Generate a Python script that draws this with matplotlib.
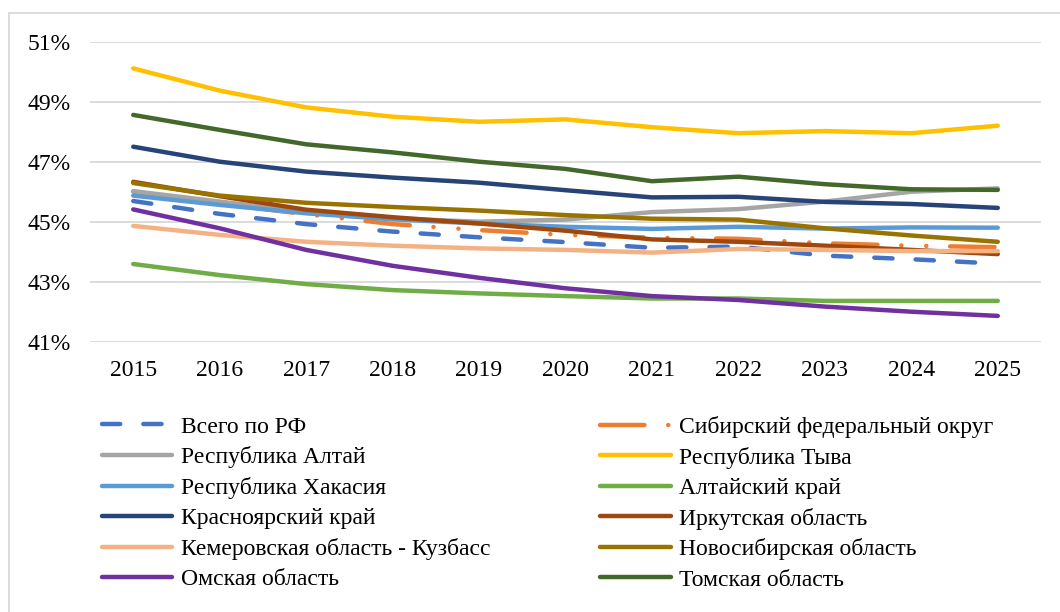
import matplotlib
matplotlib.use("Agg")
import matplotlib.pyplot as plt
from matplotlib.patches import Rectangle

plt.rcParams['font.family'] = ['Liberation Serif', 'DejaVu Serif']

years = [2015, 2016, 2017, 2018, 2019, 2020, 2021, 2022, 2023, 2024, 2025]

rf          = [45.69, 45.26, 44.92, 44.67, 44.48, 44.32, 44.13, 44.17, 43.87, 43.75, 43.60]
sfo         = [46.00, 45.60, 45.25, 44.92, 44.72, 44.56, 44.47, 44.43, 44.28, 44.20, 44.15]
altai_rep   = [46.02, 45.67, 45.33, 45.11, 45.00, 45.07, 45.32, 45.42, 45.67, 46.00, 46.11]
tyva        = [50.11, 49.37, 48.81, 48.50, 48.33, 48.41, 48.15, 47.95, 48.02, 47.95, 48.20]
khakasia    = [45.87, 45.56, 45.28, 45.08, 44.94, 44.83, 44.76, 44.83, 44.77, 44.81, 44.80]
altai_krai  = [43.59, 43.22, 42.92, 42.72, 42.61, 42.52, 42.44, 42.44, 42.36, 42.36, 42.36]
krasnoyarsk = [47.50, 47.00, 46.67, 46.47, 46.30, 46.05, 45.81, 45.83, 45.66, 45.59, 45.46]
irkutsk     = [46.33, 45.85, 45.40, 45.15, 44.94, 44.70, 44.41, 44.33, 44.20, 44.06, 43.92]
kemerovo    = [44.86, 44.56, 44.33, 44.20, 44.11, 44.06, 43.97, 44.09, 44.06, 44.02, 44.02]
novosib     = [46.29, 45.87, 45.63, 45.49, 45.37, 45.22, 45.10, 45.07, 44.78, 44.54, 44.33]
omsk        = [45.41, 44.78, 44.06, 43.53, 43.13, 42.78, 42.52, 42.39, 42.17, 42.00, 41.86]
tomsk       = [48.56, 48.06, 47.58, 47.31, 47.00, 46.76, 46.35, 46.50, 46.25, 46.08, 46.06]

labels = ["Всего по РФ", "Сибирский федеральный округ", "Республика Алтай", "Республика Тыва",
          "Республика Хакасия", "Алтайский край", "Красноярский край", "Иркутская область",
          "Кемеровская область - Кузбасс", "Новосибирская область", "Омская область", "Томская область"]
series = [rf, sfo, altai_rep, tyva, khakasia, altai_krai, krasnoyarsk, irkutsk,
          kemerovo, novosib, omsk, tomsk]
colors = ["#4472C4", "#ED7D31", "#A5A5A5", "#FFC000", "#5B9BD5", "#70AD47", "#264478",
          "#9E480E", "#F4B183", "#997300", "#7030A0", "#43682B"]

yticks = [41, 43, 45, 47, 49, 51]

W, H = 1060, 612
fig = plt.figure(figsize=(W / 100, H / 100), dpi=100)
# outer chart border
fig.patches.append(Rectangle((9 / W, -0.1), 1.2, (H - 12.5) / H + 0.1, transform=fig.transFigure,
                             fill=False, edgecolor="#D9D9D9", linewidth=1.3, zorder=0))

ax = fig.add_axes([90 / W, (H - 341.7) / H, 951 / W, 300 / H])
lw = 3.2
handles = []
for i, (vals, lab, col) in enumerate(zip(series, labels, colors)):
    if i == 0:
        ls = (0, (4.1, 5.2))
    elif i == 1:
        ls = (0, (10, 5.35, 0.02, 5.6, 0.02, 5.35))
    else:
        ls = '-'
    ln, = ax.plot(years, vals, color=col, lw=lw, linestyle=ls, label=lab,
                  solid_capstyle='round', dash_capstyle='round', zorder=3 + i)
    handles.append(ln)

ax.set_xlim(2014.5, 2025.5)
ax.set_ylim(41, 51)
ax.set_yticks(yticks)
ax.set_yticklabels([f"{v}%" for v in yticks])
ax.set_xticks(years)
ax.set_xticklabels([str(y) for y in years])
ax.tick_params(axis='both', length=0, labelsize=17, colors='black')
ax.tick_params(axis='y', pad=14)
ax.tick_params(axis='x', pad=13.5)
for s in ax.spines.values():
    s.set_visible(False)
ax.grid(axis='y', color="#D9D9D9", lw=1.3, zorder=0)
ax.set_axisbelow(True)

left_h = handles[0::2]
right_h = handles[1::2]
common = dict(loc='upper left', frameon=False, fontsize=17, handlelength=3.0,
              handletextpad=0.35, labelspacing=0.37, borderpad=0, borderaxespad=0,
              bbox_transform=fig.transFigure)
leg1 = fig.legend(left_h, [h.get_label() for h in left_h],
                  bbox_to_anchor=(101.5 / W, (H - 416) / H), **common)
leg2 = fig.legend(right_h, [h.get_label() for h in right_h],
                  bbox_to_anchor=(600 / W, (H - 416) / H), **common)

fig.savefig("out.png", dpi=100)
